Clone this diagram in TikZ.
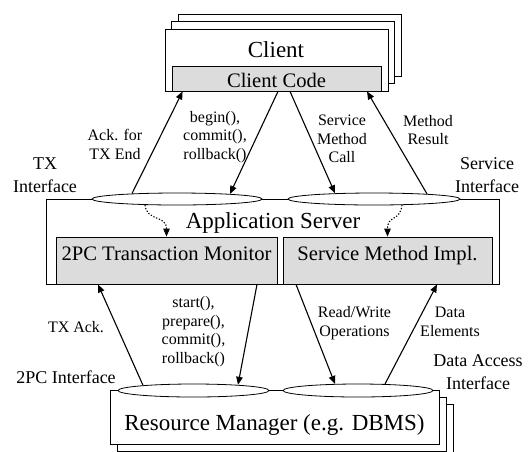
\documentclass[tikz,border=0pt]{standalone}
\usepackage{fontspec}
\setmainfont{Liberation Serif}
\usepackage{tikz}
\usetikzlibrary{arrows.meta,calc,shapes.geometric,shadows}
\definecolor{boxgray}{HTML}{DCDCDC}

\begin{document}
\begin{tikzpicture}[x=1pt, y=-1pt, >={Triangle[length=8pt,width=6.5pt]},
  box/.style={draw, line width=0.8pt, fill=white, inner sep=0pt},
  graybox/.style={box, fill=boxgray},
  iface/.style={draw, ellipse, line width=0.8pt, fill=white, inner sep=0pt, minimum height=12pt},
  flow/.style={->, line width=1.1pt},
  dotflow/.style={->, line width=1.1pt, dash pattern=on 1.3pt off 1.7pt},
  title/.style={font=\fontsize{23}{27}\selectfont, inner sep=0pt, anchor=base},
  boxtext/.style={font=\fontsize{20.6}{24}\selectfont, inner sep=0pt, anchor=base},
  lbl/.style={align=center, font=\fontsize{16}{18.5}\selectfont, inner sep=0pt},
  iflbl/.style={align=center, font=\fontsize{18}{23}\selectfont, inner sep=0pt}]
  \useasboundingbox (0,0) rectangle (529,451);
  % client stack
  \node[box, minimum width=223pt, minimum height=62pt,
    copy shadow={shadow xshift=13pt, shadow yshift=15pt, line width=0.8pt},
    copy shadow={shadow xshift=6.5pt, shadow yshift=7.5pt, line width=0.8pt}] (client) at (276.5,60) {};
  \node[graybox, minimum width=209pt, minimum height=25pt] (clientcode) at (276.5,78.5) {};
  \node[title] (clientt) at (276,57) {Client};
  \node[boxtext] (codet) at (276.5,87) {Client Code};
  % application server
  \node[box, minimum width=453pt, minimum height=85pt] (appserver) at (272.5,241.5) {};
  \node[graybox, minimum width=221pt, minimum height=47pt] (txmon) at (166.5,260.5) {};
  \node[graybox, minimum width=209pt, minimum height=47pt] (smimpl) at (387.5,260.5) {};
  \node[title] (appt) at (273,228) {Application Server};
  \node[boxtext] (txmont) at (166.5,260) {2PC Transaction Monitor};
  \node[boxtext] (smimplt) at (387.5,260) {Service Method Impl.};
  \node[iface, minimum width=170pt] (txif) at (177,199) {};
  \node[iface, minimum width=172pt] (svcif) at (374,199) {};
  % resource manager
  \node[box, minimum width=329pt, minimum height=54pt,
    copy shadow={shadow xshift=14pt, shadow yshift=-14pt, line width=0.8pt},
    copy shadow={shadow xshift=7pt, shadow yshift=-7pt, line width=0.8pt}] (rm) at (274.5,417) {};
  \node[title] (rmt) at (274.5,430) {Resource Manager (e.g. DBMS)};
  \node[iface, minimum width=151pt, minimum height=13pt] (tpcif) at (193.5,390.5) {};
  \node[iface, minimum width=150pt, minimum height=13pt] (daif) at (358,390.5) {};

  \draw[flow] ($(txif.north)+(-45,0.9)$) -- ($(clientcode.south west)+(11,0)$);
  \draw[flow] ($(clientcode.south)+(1.5,0)$) -- ($(txif.north)+(53,1.3)$);
  \draw[flow] ($(clientcode.south)+(13.5,0)$) -- ($(svcif.north)+(-39,0.7)$);
  \draw[flow] ($(svcif.north)+(53,1.3)$) -- ($(clientcode.south)+(90.5,0)$);
  \draw[dotflow] ($(txif.south)+(-32,-0.4)$) .. controls +(2,17) and +(0,-22) .. (txmon.north);
  \draw[dotflow] ($(svcif.south)+(28,-0.4)$) .. controls +(-2,17) and +(0,-22) .. (smimpl.north);
  \draw[flow] ($(tpcif.north)+(-50.5,1.7)$) -- ($(txmon.south)+(-68.5,0)$);
  \draw[flow] ($(txmon.south)+(90.5,0)$) -- ($(tpcif.north)+(44.5,1.2)$);
  \draw[flow] ($(smimpl.south)+(-91.5,0)$) -- ($(daif.north)+(-23,0.3)$);
  \draw[flow] ($(daif.north)+(27,0.4)$) -- ($(smimpl.south)+(49.5,0)$);

  \node[lbl] (ackl) at (115,144.5) {Ack. for\\TX End};
  \node[lbl] (beginl) at (215,137) {begin(),\\commit(),\\rollback()};
  \node[lbl] (calll) at (342,139) {Service\\Method\\Call};
  \node[lbl] (resultl) at (428,130) {Method\\Result};
  \node[iflbl] (txifl) at (45,175.5) {TX\\Interface};
  \node[iflbl] (svcifl) at (487,175.5) {Service\\Interface};
  \node[lbl] (txackl) at (76,327) {TX Ack.};
  \node[lbl] (startl) at (193.5,331.5) {start(),\\prepare(),\\commit(),\\rollback()};
  \node[lbl] (rwl) at (354.5,323) {Read/Write\\Operations};
  \node[lbl] (del) at (450,322) {Data\\Elements};
  \node[iflbl] (tpcifl) at (66,377) {2PC Interface};
  \node[iflbl] (daifl) at (478,372) {Data Access\\Interface};
\end{tikzpicture}
\end{document}
